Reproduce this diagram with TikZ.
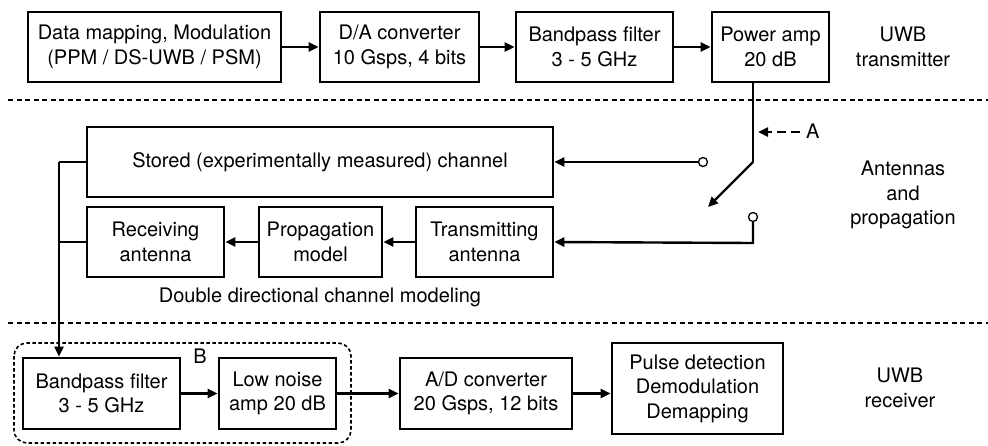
\documentclass[tikz,border=0pt]{standalone}
\usepackage{fontspec}
\setmainfont{TeX Gyre Heros}
\usetikzlibrary{arrows.meta}
\begin{document}
\begin{tikzpicture}[x=1pt,y=-1pt,
  blk/.style={draw,line width=2.6pt,inner sep=0pt,align=center,font=\fontsize{20}{24.5}\selectfont},
  lbl/.style={inner sep=0pt,align=center,font=\fontsize{20}{24.5}\selectfont},
  conn/.style={line width=2.4pt,-{Triangle[length=10pt,width=9pt]}},
  wire/.style={line width=2.4pt},
  sep/.style={line width=1.3pt,dash pattern=on 5pt off 3.5pt},
  term/.style={circle,draw,line width=1.3pt,fill=white,minimum size=9pt,inner sep=0pt}]
\useasboundingbox (0,0) rectangle (988,445);
% separators
\draw[sep] (8,100) coordinate (s1a) -- (988,100) coordinate (s1b);
\draw[sep] (8,323) coordinate (s2a) -- (988,323) coordinate (s2b);
% transmitter row
\node[blk,minimum width=253,minimum height=70] (dm) at (154.5,47) {Data mapping, Modulation\\(PPM / DS-UWB / PSM)};
\node[blk,minimum width=159,minimum height=70] (da) at (399.5,47) {D/A converter\\10 Gsps, 4 bits};
\node[blk,minimum width=157,minimum height=70] (bp) at (594.5,47) {Bandpass filter\\3 - 5 GHz};
\node[blk,minimum width=117,minimum height=70] (pa) at (770.5,47) {Power amp\\20 dB};
\node[lbl] (tx1) at (903,47) {UWB\\transmitter};
\draw[conn] (dm) -- (da);
\draw[conn] (da) -- (bp);
\draw[conn] (bp) -- (pa);
% channel
\node[blk,minimum width=466,minimum height=70] (st) at (320,162) {Stored (experimentally measured) channel};
\node[blk,minimum width=137,minimum height=70] (rx) at (155.5,242) {Receiving\\antenna};
\node[blk,minimum width=123,minimum height=70] (pm) at (320.5,242) {Propagation\\model};
\node[blk,minimum width=137,minimum height=70] (tx) at (484.5,242) {Transmitting\\antenna};
\node[lbl] (ddm) at (320,297) {Double directional channel modeling};
\node[lbl] (ap) at (903,195) {Antennas\\and\\propagation};
\draw[conn] (tx) -- (pm);
\draw[conn] (pm) -- (rx);
% switch
\coordinate (piv) at (753,162);
\coordinate (tip) at (708,207);
\node[term] (c1) at (703,162) {};
\node[term] (c2) at (753,217) {};
\draw[wire] (pa.south -| piv) -- (piv);
\draw[conn] (piv) -- (tip);
\draw[conn] (c1) -- (c1 -| st.east);
\draw[conn] (c2.south) -- (753,243) -- (tx.east);
\coordinate (aStart) at (800,132);
\coordinate (aEnd) at (758,132);
\draw[line width=2.4pt,dash pattern=on 9pt off 5pt,-{Triangle[length=10pt,width=9pt]}] (aStart) -- (aEnd);
\node[lbl,anchor=west] (A) at (806,131) {A};
% receiver
\draw[line width=1.6pt,dash pattern=on 3.5pt off 2.5pt,rounded corners=13pt] (14,343) rectangle (351,443);
\node[blk,minimum width=157,minimum height=71] (bprx) at (101.5,393.5) {Bandpass filter\\3 - 5 GHz};
\node[blk,minimum width=117,minimum height=71] (lna) at (277.5,393.5) {Low noise\\amp 20 dB};
\node[blk,minimum width=172,minimum height=71] (ad) at (486,393.5) {A/D converter\\20 Gsps, 12 bits};
\node[blk,minimum width=171,minimum height=91] (pd) at (697.5,388.5) {Pulse detection\\Demodulation\\Demapping};
\node[lbl] (B) at (200,356) {B};
\node[lbl] (rx1) at (900,388) {UWB\\receiver};
\draw[conn] (bprx) -- (lna);
\draw[conn] (lna) -- (ad);
\draw[conn] (ad.east) -- (ad.east -| pd.west);
% left feed
\coordinate (jx) at (59,162);
\draw[wire] (st.west) -- (jx);
\draw[wire] (rx.west) -- (59,242);
\draw[conn] (jx) -- (jx |- bprx.north);
\end{tikzpicture}
\end{document}
